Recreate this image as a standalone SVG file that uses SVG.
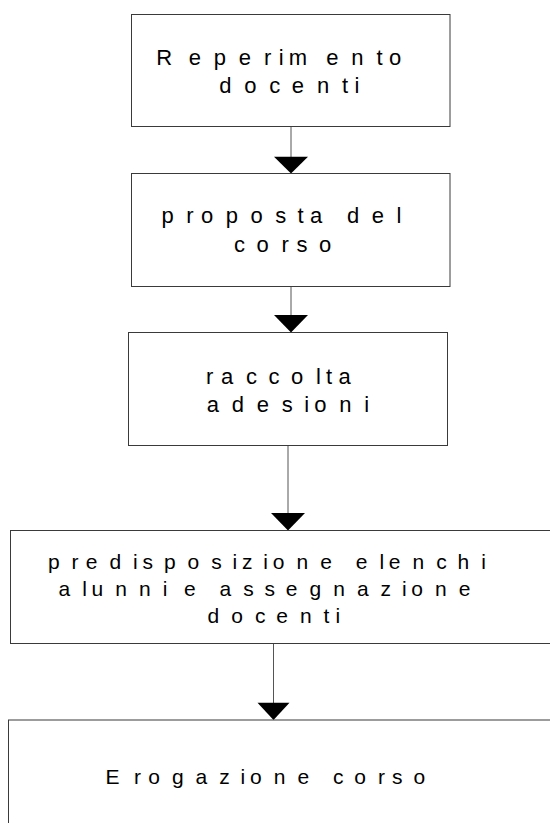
<svg xmlns="http://www.w3.org/2000/svg" width="550" height="823" viewBox="0 0 550 823">
<style>
.box{fill:#ffffff;stroke:#3a3a3a;stroke-width:1}
.t1{font-family:"Liberation Sans",Arial,sans-serif;font-size:22px;fill:#000}
.t2{font-family:"Liberation Sans",Arial,sans-serif;font-size:21px;fill:#000}
.conn line{stroke:#555;stroke-width:1}
.conn polygon{fill:#000;stroke:none}
</style>
<rect width="550" height="823" fill="#ffffff"/>
<g id="connectors" class="conn">
<line x1="291" y1="126.5" x2="291" y2="157"/>
<polygon points="274,156.7 308,156.7 291,173.5"/>
<line x1="291" y1="286.5" x2="291" y2="315.5"/>
<polygon points="274,315 308,315 291,332.5"/>
<line x1="288" y1="445.5" x2="288" y2="513.5"/>
<polygon points="271,513 305,513 288,530.5"/>
<line x1="273.5" y1="643.5" x2="273.5" y2="703"/>
<polygon points="257.5,702.7 289.5,702.7 273.5,720"/>
</g>
<g id="node1">
<rect class="box" x="131.5" y="14.5" width="318.5" height="112"/>
<text class="t1" y="65" x="156.3 188.8 213.8 238.8 263.9 278.8 288.8 326.3 351.3 376.4 388.9">Reperimento</text>
<text class="t1" y="93" x="219.3 244.3 269.3 291.8 316.9 341.9 354.4">docenti</text>
</g>
<g id="node2">
<rect class="box" x="131.5" y="173.5" width="318.5" height="113"/>
<text class="t1" y="222.5" x="161.5 186.2 201.1 225.8 250.5 275.3 297.5 309.9 334.7 347 371.8 396.5">proposta del</text>
<text class="t1" y="251.5" x="234.1 256.6 281.6 296.6 319.1">corso</text>
</g>
<g id="node3">
<rect class="box" x="128.5" y="332.5" width="319" height="113"/>
<text class="t1" y="384" x="206 221 246 268.5 291 316 326 338.5">raccolta</text>
<text class="t1" y="412" x="206.7 231.7 256.7 281.8 304.3 314.3 339.3 364.3">adesioni</text>
</g>
<g id="node4">
<rect class="box" x="10.5" y="530.5" width="560" height="113"/>
<text class="t2" y="569" x="47.9 71.6 85.8 109.5 133.1 142.6 163.9 187.6 211.3 232.6 242 263.3 272.8 296.5 320.2 343.8 355.7 379.4 388.8 412.5 436.2 457.5 481.2">predisposizione elenchi</text>
<text class="t2" y="596" x="58.5 82.2 91.6 115.3 139 162.7 172.2 184 207.7 219.5 243.2 264.5 285.8 309.5 333.2 356.9 380.6 401.9 411.3 435 458.7">alunni e assegnazione</text>
<text class="t2" y="623" x="207.5 231.2 254.9 276.2 299.9 323.5 335.4">docenti</text>
</g>
<g id="node5">
<rect class="box" x="8.5" y="720" width="560" height="200"/>
<text class="t2" y="784" x="105.6 134 148.2 171.9 195.6 219.3 240.6 250 273.7 297.4 321.1 332.9 354.2 377.9 392.1 413.4">Erogazione corso</text>
</g>
</svg>
